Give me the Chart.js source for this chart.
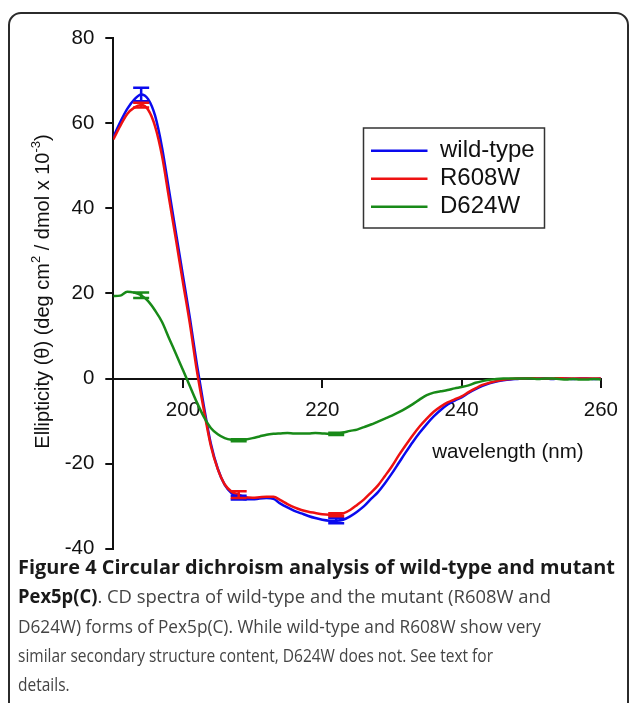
<!DOCTYPE html>
<html>
<head>
<meta charset="utf-8">
<script src="https://cdn.jsdelivr.net/npm/chart.js@4.4.1/dist/chart.umd.min.js"></script>
<style>
  html, body { margin: 0; padding: 0; background: #fff; }
  body { width: 629px; height: 703px; position: relative; overflow: hidden; }
  .frame {
    position: absolute; left: 8px; top: 12px; width: 621px; height: 760px;
    box-sizing: border-box; border: 2px solid #2b2b2b; border-radius: 13px;
  }
  .plot { position: absolute; left: 0; top: 0; width: 629px; height: 572px; }
  .caption {
    position: absolute; left: 18px; top: 553px;
    font-family: "Open Sans", sans-serif; font-size: 19px; line-height: 29.3px;
    color: #444; white-space: nowrap;
  }
  .caption span { display: inline-block; transform-origin: left center; }
  .caption b { color: #1a1a1a; }
</style>
</head>
<body>
<div class="frame"></div>
<div class="plot"><canvas id="cd-chart"></canvas></div>
<div class="caption" id="caption">
  <div><span data-w="597"><b>Figure 4 Circular dichroism analysis of wild-type and mutant</b></span></div>
  <div><span data-w="533"><b>Pex5p(C)</b>. CD spectra of wild-type and the mutant (R608W and</span></div>
  <div><span data-w="523">D624W) forms of Pex5p(C). While wild-type and R608W show very</span></div>
  <div><span data-w="475">similar secondary structure content, D624W does not. See text for</span></div>
  <div><span>details.</span></div>
</div>

<script>
// wavelength (nm)
const wavelength = [
  190, 191, 192, 193, 194, 195, 196, 197, 198, 199,
  200, 201, 202, 203, 204, 205, 206, 207, 208, 209,
  210, 211, 212, 213, 214, 215, 216, 217, 218, 219,
  220, 221, 222, 223, 224, 225, 226, 227, 228, 229,
  230, 231, 232, 233, 234, 235, 236, 237, 238, 239,
  240, 241, 242, 243, 244, 245, 246, 247, 248, 249,
  250, 251, 252, 253, 254, 255, 256, 257, 258, 259,
  260
];

const wildType = [
  56.8, 60.3, 63.4, 65.6, 66.8, 65.7, 61.8, 54.3, 44.3, 34.2,
  24.2, 14.2, 3.3, -6.5, -15.3, -21.2, -25, -27, -28, -28.4,
  -28.4, -28.2, -28.1, -28.3, -29.4, -30.3, -31.1, -31.7, -32.3, -32.8,
  -33.2, -33.4, -33.4, -33.2, -32.4, -31.3, -30, -28.3, -26.7, -24.6,
  -22.3, -19.8, -17.3, -14.9, -12.7, -10.7, -8.9, -7.4, -6.1, -5.2,
  -4.4, -3.4, -2.5, -1.7, -1.1, -0.7, -0.4, -0.2, -0.1, 0,
  0, 0, 0, -0.1, 0, 0, -0.1, 0, 0, -0.1,
  0
];

const r608w = [
  56.2, 59.4, 62.2, 63.7, 64.3, 63.2, 59.3, 52.3, 42.4, 32.6,
  22.6, 12.8, 1.8, -7.4, -15.8, -21.3, -24.9, -26.6, -27.3, -27.9,
  -28, -27.9, -27.8, -27.8, -28.6, -29.5, -30.3, -30.9, -31.3, -31.6,
  -31.9, -32, -32, -31.7, -30.9, -29.7, -28.4, -26.8, -25.1, -22.9,
  -20.6, -18, -15.6, -13.3, -11.2, -9.4, -7.8, -6.6, -5.6, -4.9,
  -4.2, -3.2, -2.3, -1.5, -1, -0.6, -0.3, -0.1, 0, 0,
  0.1, 0, 0, 0, 0.1, 0, 0, 0, 0, 0,
  0
];

const d624w = [
  19.4, 19.5, 20.4, 20.2, 19.6, 18.2, 16, 13.3, 9.5, 5.8,
  2, -1.8, -5.6, -9, -11.6, -13.1, -14, -14.4, -14.5, -14.3,
  -14, -13.6, -13.2, -13, -12.9, -12.8, -12.9, -12.9, -12.9, -12.8,
  -12.9, -13, -13, -12.7, -12.3, -12, -11.4, -10.8, -10.1, -9.4,
  -8.7, -7.9, -7, -6, -4.9, -3.9, -3.3, -3, -2.7, -2.3,
  -2, -1.6, -1, -0.6, -0.3, -0.1, 0, 0, 0, 0,
  0, -0.1, 0, 0, -0.1, -0.2, -0.1, -0.2, -0.2, -0.1,
  -0.2
];

// error bars (half height) at a few wavelengths
const errorAt = [194, 208, 222];
const wildTypeErr = [1.6, 0.45, 0.6];
const r608wErr = [0.55, 0.8, 0.35];
const d624wErr = [0.65, 0.25, 0.25];

const xTicks = [200, 220, 240, 260];
const yTicks = [-40, -20, 0, 20, 40, 60, 80];

const FONT = '"Liberation Sans", Arial, sans-serif';

function points(values) {
  return wavelength.map((w, i) => ({ x: w, y: values[i] }));
}

const extras = {
  id: "extras",
  afterDatasetsDraw(chart) {
    const { ctx } = chart;
    const x = chart.scales.x;
    const y = chart.scales.y;
    chart.data.datasets.forEach((ds) => {
      ctx.save();
      ctx.strokeStyle = ds.borderColor;
      ctx.lineWidth = 2.5;
      errorAt.forEach((nm, i) => {
        const v = ds.data[wavelength.indexOf(nm)].y;
        const px = x.getPixelForValue(nm);
        const top = y.getPixelForValue(v + ds.errors[i]);
        const bot = y.getPixelForValue(v - ds.errors[i]);
        ctx.beginPath();
        ctx.moveTo(px, top);
        ctx.lineTo(px, bot);
        ctx.moveTo(px - 8, top);
        ctx.lineTo(px + 8, top);
        ctx.moveTo(px - 8, bot);
        ctx.lineTo(px + 8, bot);
        ctx.stroke();
      });
      ctx.restore();
    });
  },
  afterDraw(chart) {
    const { ctx, chartArea } = chart;
    const y = chart.scales.y;
    ctx.save();

    // legend box
    const lx = 363.5, ly = 128, lw = 181, lh = 100;
    ctx.strokeStyle = "#333";
    ctx.lineWidth = 1.5;
    ctx.strokeRect(lx, ly, lw, lh);
    ctx.font = "24px " + FONT;
    ctx.textBaseline = "middle";
    ctx.textAlign = "left";
    chart.data.datasets.forEach((ds, i) => {
      const ry = ly + 22.7 + i * 28;
      ctx.strokeStyle = ds.borderColor;
      ctx.lineWidth = 2.5;
      ctx.beginPath();
      ctx.moveTo(lx + 7.5, ry);
      ctx.lineTo(lx + 64, ry);
      ctx.stroke();
      ctx.fillStyle = "#111";
      ctx.fillText(ds.label, lx + 76.5, ry);
    });

    // x axis title
    ctx.font = "20.5px " + FONT;
    ctx.textAlign = "center";
    ctx.textBaseline = "alphabetic";
    ctx.fillStyle = "#111";
    ctx.fillText("wavelength (nm)", chartArea.right - 93, y.getPixelForValue(0) + 79);

    // y axis title with superscripts
    const parts = [
      ["Ellipticity (\u03b8) (deg cm", false],
      ["2", true],
      [" / dmol x 10", false],
      ["-3", true],
      [")", false],
    ];
    const big = "20px " + FONT, small = "13px " + FONT;
    let total = 0;
    parts.forEach(([t, sup]) => {
      ctx.font = sup ? small : big;
      total += ctx.measureText(t).width;
    });
    ctx.translate(43, (chartArea.top + chartArea.bottom) / 2 - 2);
    ctx.rotate(-Math.PI / 2);
    ctx.textAlign = "left";
    ctx.textBaseline = "middle";
    let cx = -total / 2;
    parts.forEach(([t, sup]) => {
      ctx.font = sup ? small : big;
      ctx.fillText(t, cx, sup ? -7 : 0);
      cx += ctx.measureText(t).width;
    });
    ctx.restore();
  },
};

const ctx = document.getElementById("cd-chart").getContext("2d");
const cdChart = new Chart(ctx, {
  type: "line",
  data: {
    datasets: [
      {
        label: "wild-type",
        data: points(wildType),
        errors: wildTypeErr,
        borderColor: "#0a0aee",
        borderWidth: 2.5,
        pointRadius: 0,
        cubicInterpolationMode: "monotone",
        order: 3,
      },
      {
        label: "R608W",
        data: points(r608w),
        errors: r608wErr,
        borderColor: "#ee1111",
        borderWidth: 2.5,
        pointRadius: 0,
        cubicInterpolationMode: "monotone",
        order: 2,
      },
      {
        label: "D624W",
        data: points(d624w),
        errors: d624wErr,
        borderColor: "#188a18",
        borderWidth: 2.5,
        pointRadius: 0,
        cubicInterpolationMode: "monotone",
        order: 1,
      },
    ],
  },
  options: {
    responsive: true,
    maintainAspectRatio: false,
    animation: false,
    layout: { padding: { top: 38.3, bottom: 1, right: 26.3, left: 0 } },
    plugins: {
      legend: { display: false },
      tooltip: { enabled: false },
    },
    scales: {
      x: {
        type: "linear",
        min: 190,
        max: 260,
        position: { y: 0 },
        afterFit: (scale) => {
          scale.height = 0;
        },
        afterBuildTicks: (scale) => {
          scale.ticks = xTicks.map((v) => ({ value: v }));
        },
        border: { display: true, color: "#111", width: 2 },
        grid: { drawOnChartArea: false, drawTicks: true, tickLength: 8, color: "#111", lineWidth: 2 },
        ticks: { color: "#111", padding: 11, maxRotation: 0, font: { family: FONT, size: 20.5 } },
      },
      y: {
        type: "linear",
        min: -40,
        max: 80,
        position: "left",
        afterFit: (scale) => {
          scale.width = 113.3;
        },
        afterBuildTicks: (scale) => {
          scale.ticks = yTicks.map((v) => ({ value: v }));
        },
        border: { display: true, color: "#111", width: 2 },
        grid: { drawOnChartArea: false, drawTicks: true, tickLength: 8, color: "#111", lineWidth: 2 },
        ticks: { color: "#111", padding: 11, font: { family: FONT, size: 20.5 } },
      },
    },
  },
  plugins: [extras],
});

// squeeze each caption line to the width it has in the original figure
let regularScale = 1;
document.querySelectorAll("#caption span").forEach((span) => {
  const target = Number(span.dataset.w);
  const k = target ? target / span.getBoundingClientRect().width : regularScale;
  if (target && !span.querySelector("b:only-child")) regularScale = k;
  span.style.transform = "scaleX(" + k + ")";
});
</script>
</body>
</html>
